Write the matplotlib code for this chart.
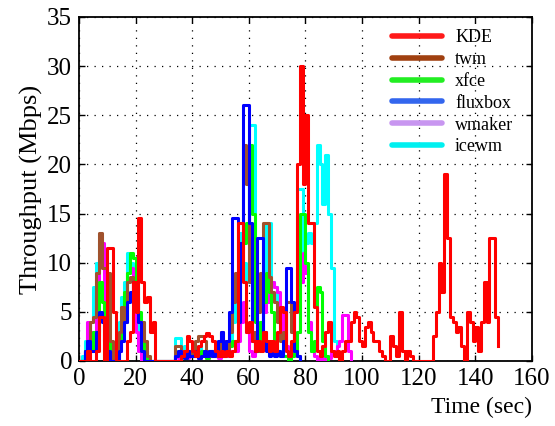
import numpy as np
import matplotlib
matplotlib.use("Agg")
import matplotlib.pyplot as plt
from matplotlib.lines import Line2D

# throughput samples, one per second, starting at t = 0
kde = [0, 0, 0, 1, 0, 0, 1, 4.5, 4.5, 0,
       11.5, 11.5, 5, 0, 0, 0, 0, 2, 3, 8,
       5, 14.5, 8, 6, 6.5, 3, 4, 0, 0, 0,
       0, 0, 0, 0, 0, 0, 0.5, 1, 2.5, 2,
       1, 0.5, 1.5, 2, 2.5, 2.8, 2.5, 2, 1, 0.5,
       1, 0.5, 1, 0.5, 1, 2, 14, 14, 8, 3,
       4, 2, 1, 2, 1, 3, 2, 1, 2, 1,
       3, 5.5, 5, 1, 0.5, 2, 5, 20, 30, 18,
       25, 14, 14, 5.5, 1, 0.5, 1.5, 3, 4, 1,
       0.5, 1, 0, 1, 2, 2, 4, 5, 4.5, 2,
       1.5, 3.5, 4, 3, 2, 2, 1, 0.5, 0, 0,
       2.5, 1.5, 0.5, 5, 1, 0, 1, 0.5, 0, 0,
       0, 0, 0, 0, 0, 2.5, 5, 10, 7, 19,
       12.5, 4.5, 4, 3, 3.5, 1.5, 0, 5, 4, 2,
       3.5, 1, 4, 8, 4, 12.5, 12.5, 4.5, 1.5]

twm = [0, 0, 1, 2, 4, 4.5, 9, 13, 9.5, 9.5,
       9, 2, 0, 0.5, 3, 5.5, 4, 8, 8.5, 7,
       6.5, 4, 4, 2, 0.5, 0, 0, 0, 0, 0,
       0, 0, 0, 0, 1.5, 1.5, 1, 0.5, 1, 0.5,
       1, 2, 2.5, 2.5, 2, 1, 0.5, 1, 0.5, 1,
       3, 2, 1, 3, 6, 9, 9, 12, 22, 18,
       8, 3, 1, 5, 9, 14, 14, 8.5, 7, 6,
       4, 2, 3, 6, 6, 3, 1, 0.5, 0]

xfce = [0, 0, 1, 2, 1, 3, 2.5, 8, 6, 4,
        2, 0, 0, 1, 2, 5, 7, 9, 11, 10.5,
        6, 5, 2, 1, 0, 0, 0, 0, 0, 0,
        0, 0, 0, 0, 0.5, 1, 0.5, 0.3, 0.5, 1,
        0.5, 1, 0.5, 1, 0.5, 0.3, 1, 0.5, 0.5, 1,
        1, 0.5, 1, 1.5, 2, 2, 5, 10, 12, 14,
        22, 15, 4, 1, 4, 6, 9, 7, 5, 2,
        1, 0.5, 0.5, 0.5, 0, 0.5, 1, 3, 15, 15,
        10, 3, 1, 2, 7.5, 7, 2, 0.5, 0]

fluxbox = [0, 0, 1, 2, 1, 1, 3, 5, 4, 2,
           1, 0, 0, 0, 1, 2, 4, 6, 7, 8,
           7.5, 4, 1, 0, 0, 0, 0, 0, 0, 0,
           0, 0, 0, 0, 0.5, 1, 0.5, 0.3, 1, 0.5,
           0.5, 1, 0.3, 0.5, 1, 0.5, 1, 0.5, 1, 2,
           3, 1, 2, 5, 14.5, 14.5, 4, 12, 26, 26,
           14, 2, 1, 12.5, 12.5, 3, 1, 0.5, 1, 0.5,
           1, 0.5, 2, 9.5, 9.5, 6, 1, 0.5, 0]

wmaker = [0, 0, 1, 4, 3, 2, 7, 10, 12, 5,
          1, 0, 0, 0, 1, 3, 6, 9, 9.5, 7,
          3, 1, 0, 0, 0, 0, 0, 0, 0, 0,
          0, 0, 0, 0, 0.5, 0.3, 0.5, 1, 0.3, 0.5,
          1, 0.5, 0.3, 1, 0.5, 0.3, 0.5, 1, 0.5, 0.3,
          0.5, 1, 0.5, 1, 1, 1, 2, 4, 6, 3,
          1, 0.5, 1, 2, 3, 5, 6, 7, 8, 7.5,
          7, 5, 3, 1.5, 1, 0.5, 1, 3, 8, 11,
          9, 4, 1, 0.5, 0, 0.5, 0, 0.5, 0.3, 1,
          1, 1.5, 2, 4.7, 4.7, 1, 0]

icewm = [0, 0.5, 2, 2, 4, 7.5, 10, 12, 11, 4,
         0.5, 0, 0, 1, 4, 6.5, 8, 11, 10, 9,
         4, 2, 4, 1, 0, 0, 0, 0, 0, 0,
         0, 0, 0, 0, 2.3, 2.3, 1, 1.5, 0.5, 1,
         0.5, 1, 1.5, 1, 0.5, 1, 0.5, 1, 1, 2,
         1, 0.5, 1.5, 2, 4, 6, 9, 13, 10, 8,
         24, 24, 12, 4, 2, 6, 14, 14, 8, 7.5,
         6, 4, 2, 1, 0.5, 1, 5, 17.5, 17.5, 10,
         12, 13, 12, 14, 22, 20, 16, 21, 15, 9.5,
         2, 0.5, 0]

names = ["KDE", "twm", "xfce", "fluxbox", "wmaker", "icewm"]
series = [kde, twm, xfce, fluxbox, wmaker, icewm]
colors = ["#ff0000", "#a0522d", "#00ff00", "#0000ff", "#ff00ff", "#00ffff"]
legend_colors = ["#ff1a1a", "#a04010", "#22ee22", "#3366ee", "#c896f0", "#00f0f0"]
draw_order = [5, 4, 2, 1, 3, 0]  # icewm at the bottom, KDE on top

plt.rcParams["font.family"] = ["Liberation Serif", "DejaVu Serif"]

fig = plt.figure(figsize=(5.55, 4.26), dpi=100)
ax = fig.add_axes([0.1423, 0.1526, 0.8162, 0.8075])

for i in draw_order:
    y = np.array(series[i])
    t = np.arange(len(y))
    ax.plot(t, y, drawstyle="steps-post", color=colors[i], lw=2.2, zorder=2 + draw_order.index(i))

ax.set_xlim(0, 160)
ax.set_ylim(0, 35)
ax.set_xticks(np.arange(0, 161, 20))
ax.set_yticks(np.arange(0, 36, 5))
ax.grid(True, color="black", linestyle=(0, (1, 5)), linewidth=0.9)
ax.tick_params(direction="in", length=4, width=1, top=True, right=True, labelsize=18, pad=5)
for s in ax.spines.values():
    s.set_linewidth(1.3)

ax.set_xlabel("Time (sec)", fontsize=17, loc="right", labelpad=5)
ax.set_ylabel("Throughput (Mbps)", fontsize=19, labelpad=3)

handles = [Line2D([], [], color=c, lw=4, solid_capstyle="round") for c in legend_colors]
ax.legend(handles, names, loc="upper left", bbox_to_anchor=(0.655, 1.012), frameon=False,
          fontsize=13, handlelength=2.8, handletextpad=0.7, labelspacing=0.27)

fig.savefig("out.png")
